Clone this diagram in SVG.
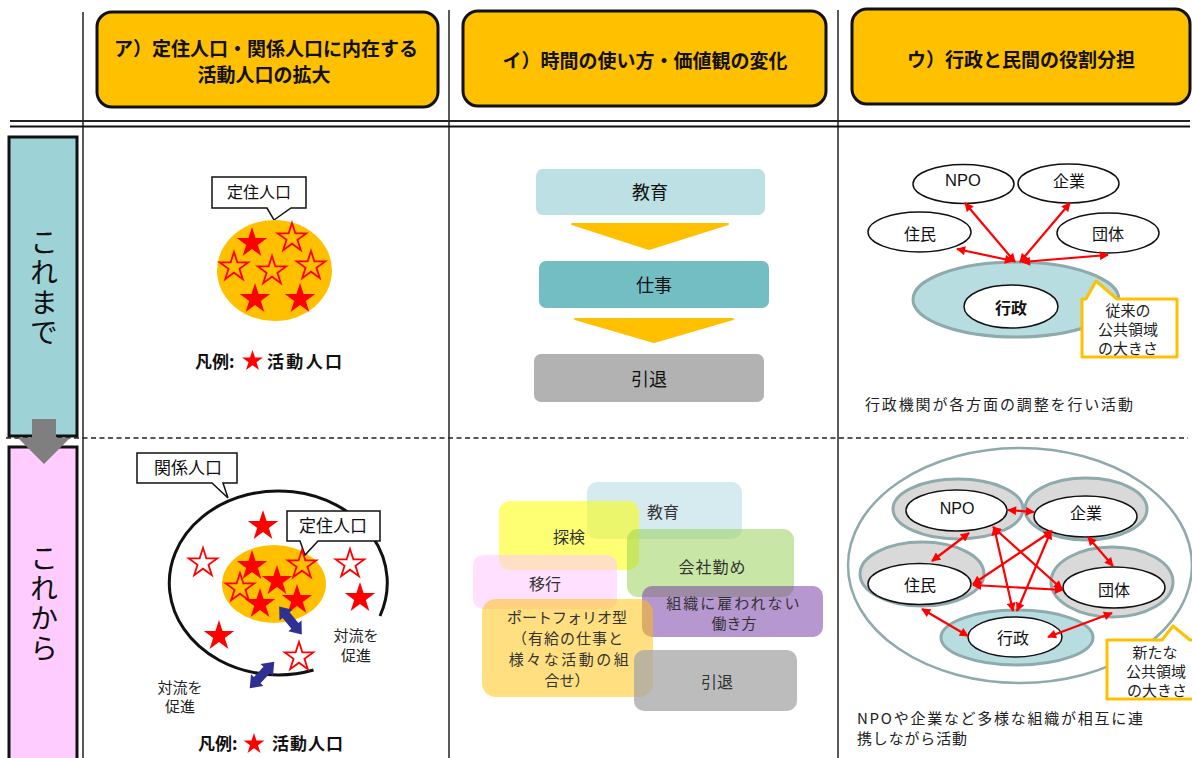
<svg xmlns="http://www.w3.org/2000/svg" width="1192" height="758" viewBox="0 0 1192 758">
<defs>
<style>
text{font-family:'Noto Sans CJK JP','Noto Sans CJK SC',sans-serif;}
.lat{font-family:'Liberation Sans','Noto Sans CJK JP',sans-serif;}
.hdr{fill:#FFC000;stroke:#111;stroke-width:3;}
.ht{font-size:19px;font-weight:700;text-anchor:middle;fill:#111;}
.lbl{font-size:28px;text-anchor:middle;fill:#111;writing-mode:vertical-rl;letter-spacing:2px;}
.cal{fill:#fff;stroke:#111;stroke-width:1.5;}
.t16{font-size:16px;text-anchor:middle;fill:#111;}
.t18{font-size:18px;text-anchor:middle;fill:#111;}
.t15{font-size:15px;text-anchor:middle;fill:#222;}
.leg{font-size:17px;font-weight:700;fill:#111;}
.sf{fill:#FF0000;}
.so{fill:none;stroke:#FF0000;stroke-width:1.8;}
.red{stroke:#FF0000;stroke-width:2.2;fill:none;marker-start:url(#ah);marker-end:url(#ah);}
.wel{fill:#fff;stroke:#111;stroke-width:1.5;}
.ring{fill:#D9D9D9;stroke:#8FAAAC;stroke-width:3;}
.teal{fill:#B7DDE1;stroke:#8FAAAC;stroke-width:3;}
.mb{font-size:16px;text-anchor:middle;fill:#333;}
.mb15{font-size:15px;text-anchor:middle;fill:#333;}
.chev{fill:#FFC000;stroke:#FFC000;stroke-width:2;stroke-linejoin:round;}
.blue{fill:#2E3192;}
.grid{stroke:#222;stroke-width:1.5;fill:none;}
</style>
<path id="sF" d="M0,-16 L3.59,-4.94 L15.22,-4.94 L5.81,1.89 L9.4,12.94 L0,6.11 L-9.4,12.94 L-5.81,1.89 L-15.22,-4.94 L-3.59,-4.94 Z"/>
<path id="sO" d="M0,-15 L3.37,-4.63 L14.27,-4.63 L5.45,1.77 L8.81,12.13 L0,5.73 L-8.81,12.13 L-5.45,1.77 L-14.27,-4.63 L-3.37,-4.63 Z"/>
<path id="sL" d="M0,-11 L2.47,-3.4 L10.46,-3.4 L4,1.3 L6.47,8.9 L0,4.2 L-6.47,8.9 L-4,1.3 L-10.46,-3.4 L-2.47,-3.4 Z"/>
<path id="dblue" d="M-18,0 L-7,-8.5 L-7,-4.5 L7,-4.5 L7,-8.5 L18,0 L7,8.5 L7,4.5 L-7,4.5 L-7,8.5 Z"/>
<marker id="ah" viewBox="0 0 10 10" refX="9" refY="5" markerWidth="10" markerHeight="9" orient="auto-start-reverse" markerUnits="userSpaceOnUse">
<path d="M0,0 L10,5 L0,10 Z" fill="#FF0000"/>
</marker>
</defs>
<rect width="1192" height="758" fill="#fff"/>

<!-- grid lines -->
<g id="grid">
<line class="grid" x1="83" y1="12" x2="83" y2="758"/>
<line class="grid" x1="449" y1="10" x2="449" y2="758"/>
<line class="grid" x1="838" y1="10" x2="838" y2="758"/>
<line x1="10" y1="121" x2="1190" y2="121" stroke="#222" stroke-width="2"/>
<line x1="10" y1="126.5" x2="1190" y2="126.5" stroke="#111" stroke-width="2.2"/>
<line x1="6" y1="438" x2="1188" y2="438" stroke="#222" stroke-width="1.5" stroke-dasharray="5,3.5"/>
</g>

<!-- headers -->
<g id="hdrA">
<rect class="hdr" x="97" y="12" width="341" height="95" rx="15"/>
<text class="ht" x="266" y="56">ア）定住人口・関係人口に内在する</text>
<text class="ht" x="264" y="82">活動人口の拡大</text>
</g>
<g id="hdrI">
<rect class="hdr" x="463" y="11" width="363" height="95" rx="15"/>
<text class="ht" x="645" y="68">イ）時間の使い方・価値観の変化</text>
</g>
<g id="hdrU">
<rect class="hdr" x="852" y="9" width="338" height="95" rx="15"/>
<text class="ht" x="1021" y="67">ウ）行政と民間の役割分担</text>
</g>

<!-- row labels -->
<g id="lblKoremade">
<rect x="9" y="137" width="68" height="299" fill="#9DD3D7" stroke="#111" stroke-width="3"/>
<text class="lbl" x="44" y="288">これまで</text>
</g>
<g id="lblKorekara">
<rect x="9" y="447" width="68" height="330" fill="#FFCCFF" stroke="#111" stroke-width="3"/>
<text class="lbl" x="44" y="604">これから</text>
</g>
<g id="downArrow">
<path d="M32,419 H56 V438 H70 L44,464 L18,438 H32 Z" fill="#7F7F7F"/>
</g>

<!-- A top -->
<g id="a-top">
<path class="cal" d="M212,177 H306 V208 H291 L274,220 L267,208 H212 Z"/>
<text class="t16" x="259" y="198">定住人口</text>
<ellipse cx="274.5" cy="270.5" rx="57.5" ry="50.5" fill="#FFC000"/>
<use href="#sF" class="sf" x="252" y="243"/>
<use href="#sF" class="sf" x="255" y="299"/>
<use href="#sF" class="sf" x="300" y="299"/>
<use href="#sO" class="so" x="292" y="238"/>
<use href="#sO" class="so" x="234" y="267"/>
<use href="#sO" class="so" x="272" y="271"/>
<use href="#sO" class="so" x="311" y="266"/>
<text class="leg" x="195" y="368">凡例:</text>
<use href="#sL" class="sf" x="252.5" y="361"/>
<text class="leg" x="267" y="368" textLength="75">活動人口</text>
</g>

<!-- A bottom -->
<g id="a-bottom">
<path d="M313.5,670 A109,92 0 1 1 380,616" fill="none" stroke="#111" stroke-width="3"/>
<path class="cal" d="M137,453 H237 V483 H223 L228,498 L212,483 H137 Z"/>
<text class="t16" x="188" y="474" style="font-size:17px">関係人口</text>
<ellipse cx="274" cy="584" rx="52" ry="39" fill="#FFC000"/>
<path class="cal" d="M287,511 H380 V541 H318 L305,555 L300,541 H287 Z"/>
<text class="t16" x="333" y="532" style="font-size:17px">定住人口</text>
<use href="#sF" class="sf" x="252" y="566"/>
<use href="#sF" class="sf" x="277" y="581"/>
<use href="#sF" class="sf" x="260" y="604"/>
<use href="#sF" class="sf" x="297" y="600"/>
<use href="#sO" class="so" x="302" y="565"/>
<use href="#sO" class="so" x="240" y="588"/>
<use href="#sF" class="sf" x="263" y="526"/>
<use href="#sF" class="sf" x="360" y="598"/>
<use href="#sF" class="sf" x="219" y="636"/>
<use href="#sO" class="so" x="203" y="563"/>
<use href="#sO" class="so" x="350" y="564"/>
<use href="#sO" class="so" x="299" y="657"/>
<use href="#dblue" class="blue" transform="translate(290.5,620.5) rotate(51)"/>
<use href="#dblue" class="blue" transform="translate(262,675) rotate(-47)"/>
<text class="t15" x="356" y="640.5">対流を<tspan x="356" dy="20">促進</tspan></text>
<text class="t15" x="180" y="692.5">対流を<tspan x="180" dy="19.5">促進</tspan></text>
<text class="leg" x="198" y="750">凡例:</text>
<use href="#sL" class="sf" x="254" y="744"/>
<text class="leg" x="272" y="750" textLength="71">活動人口</text>
</g>

<!-- I top -->
<g id="i-kyoiku">
<rect x="536" y="169" width="229" height="46" rx="7" fill="#BCE0E3"/>
<text class="t18" x="650" y="199">教育</text>
</g>
<path class="chev" d="M572,224 L728,224 L649,249 Z"/>
<g id="i-shigoto">
<rect x="539" y="261" width="230" height="47" rx="7" fill="#72BEC3"/>
<text class="t18" x="654" y="292">仕事</text>
</g>
<path class="chev" d="M575,319 L733,319 L654,342 Z"/>
<g id="i-intai">
<rect x="534" y="354" width="230" height="48" rx="7" fill="#B2B2B2"/>
<text class="t18" x="649" y="386">引退</text>
</g>

<!-- I bottom -->
<g id="ib-kyoiku"><rect x="587" y="482" width="155" height="57" rx="10" fill="#C8E4E9" opacity="0.75"/></g>
<g id="ib-tanken"><rect x="499" y="501" width="140" height="69" rx="11" fill="#FFFF00" opacity="0.55"/></g>
<g id="ib-kaisha"><rect x="627" y="529" width="167" height="68" rx="11" fill="#92D050" opacity="0.5"/></g>
<g id="ib-ikou"><rect x="473" y="555" width="144" height="54" rx="10" fill="#FFCCFF" opacity="0.6"/></g>
<g id="ib-soshiki"><rect x="642" y="586" width="181" height="51" rx="10" fill="#7030A0" opacity="0.5"/></g>
<g id="ib-portfolio"><rect x="482" y="599" width="171" height="98" rx="14" fill="#FFC000" opacity="0.5"/></g>
<g id="ib-intai"><rect x="634" y="650" width="163" height="61" rx="10" fill="#A6A6A6" opacity="0.75"/></g>
<g id="ib-texts">
<text class="mb" x="663" y="518">教育</text>
<text class="mb" x="569" y="543">探検</text>
<text class="mb" x="712" y="573" textLength="67">会社勤め</text>
<text class="mb" x="545" y="590">移行</text>
<text class="mb15" x="734" y="608.5"><tspan style="letter-spacing:2px">組織に雇われない</tspan><tspan x="734" dy="20">働き方</tspan></text>
<text class="mb15" x="567" y="622.5"><tspan>ポートフォリオ型</tspan><tspan x="568" dy="21" style="letter-spacing:1px">（有給の仕事と</tspan><tspan x="570" dy="21" style="letter-spacing:2.5px">様々な活動の組</tspan><tspan x="567" dy="21">合せ）</tspan></text>
<text class="mb" x="717" y="688">引退</text>
</g>

<!-- U top -->
<g id="u-npo">
<ellipse class="wel" cx="963.5" cy="184" rx="50.5" ry="19.5"/>
<text class="t16 lat" x="963" y="185.5" style="font-size:16.5px">NPO</text>
</g>
<g id="u-kigyo">
<ellipse class="wel" cx="1068.5" cy="183.5" rx="50.5" ry="19.5"/>
<text class="t16" x="1069" y="187">企業</text>
</g>
<g id="u-jumin">
<ellipse class="wel" cx="919.5" cy="232" rx="51.5" ry="20"/>
<text class="t16" x="920" y="240">住民</text>
</g>
<g id="u-dantai">
<ellipse class="wel" cx="1108" cy="233" rx="51" ry="20"/>
<text class="t16" x="1108" y="240">団体</text>
</g>
<g id="u-gyosei">
<ellipse class="teal" cx="1016" cy="299.5" rx="103" ry="37.5"/>
<ellipse class="wel" cx="1011" cy="306.5" rx="47" ry="21.5"/>
<text class="t16" x="1011" y="314" font-weight="700">行政</text>
</g>
<g id="u-callout1">
<path d="M1082,299 H1086 L1096,281 L1117,299 H1177 V357 H1082 Z" fill="#fff" stroke="#FFC000" stroke-width="3" stroke-linejoin="round"/>
<text class="t15" x="1128" y="316">従来の<tspan x="1128" dy="19">公共領域</tspan><tspan x="1128" dy="19">の大きさ</tspan></text>
</g>
<text class="t15" x="999" y="410" textLength="268" style="fill:#222">行政機関が各方面の調整を行い活動</text>

<!-- U bottom -->
<g id="ub-area">
<ellipse cx="1020" cy="565.5" rx="172" ry="117.5" fill="#fff" stroke="#8FAAAC" stroke-width="2.5"/>
</g>
<g id="ub-npo">
<ellipse class="ring" cx="958" cy="509" rx="65" ry="30"/>
<ellipse class="wel" cx="956.5" cy="510.5" rx="50.5" ry="20.5"/>
<text class="t16 lat" x="957" y="514">NPO</text>
</g>
<g id="ub-kigyo">
<ellipse class="ring" cx="1086" cy="509" rx="61" ry="31"/>
<ellipse class="wel" cx="1085.5" cy="516.5" rx="51.5" ry="20.5"/>
<text class="t16" x="1086" y="519">企業</text>
</g>
<g id="ub-jumin">
<ellipse class="ring" cx="922" cy="574" rx="62" ry="32"/>
<ellipse class="wel" cx="919.5" cy="584" rx="51.5" ry="20.5"/>
<text class="t16" x="920" y="591">住民</text>
</g>
<g id="ub-dantai">
<ellipse class="ring" cx="1112" cy="582" rx="61" ry="35"/>
<ellipse class="wel" cx="1114" cy="587.5" rx="51" ry="20.5"/>
<text class="t16" x="1114" y="596">団体</text>
</g>
<g id="ub-gyosei">
<ellipse class="teal" cx="1017" cy="637.5" rx="76" ry="27.5"/>
<ellipse class="wel" cx="1015" cy="637" rx="47" ry="20"/>
<text class="t16" x="1013" y="644">行政</text>
</g>
<g id="ub-callout">
<path d="M1107,640 H1162 L1173,626 L1190,640 H1200 V699 H1107 Z" fill="#fff" stroke="#FFC000" stroke-width="3" stroke-linejoin="round"/>
<text class="t15" x="1155" y="658">新たな<tspan x="1156" dy="19">公共領域</tspan><tspan x="1157" dy="19">の大きさ</tspan></text>
</g>
<text class="t15" x="857" y="724" textLength="286" style="text-anchor:start;fill:#222">NPOや企業など多様な組織が相互に連</text>
<text class="t15" x="857" y="744" textLength="110" style="text-anchor:start;fill:#222">携しながら活動</text>

<!-- connectors -->
<g id="connectors">
<line class="red" x1="1015" y1="262" x2="965" y2="203"/>
<line class="red" x1="1020" y1="262" x2="1070" y2="203"/>
<line class="red" x1="1013" y1="261" x2="957" y2="249"/>
<line class="red" x1="1022" y1="262" x2="1108" y2="255"/>

<line class="red" x1="1008" y1="510" x2="1034" y2="512"/>
<line class="red" x1="969" y1="533" x2="932" y2="561"/>
<line class="red" x1="1088" y1="537" x2="1113" y2="566"/>
<line class="red" x1="922" y1="609" x2="968" y2="636"/>
<line class="red" x1="1112" y1="613" x2="1048" y2="637"/>
<line class="red" x1="973" y1="585" x2="1063" y2="590"/>
<line class="red" x1="993" y1="527" x2="1062" y2="589"/>
<line class="red" x1="1052" y1="531" x2="973" y2="584"/>
<line class="red" x1="994" y1="527" x2="1013" y2="611"/>
<line class="red" x1="1051" y1="531" x2="1017" y2="611"/>
</g>
</svg>
